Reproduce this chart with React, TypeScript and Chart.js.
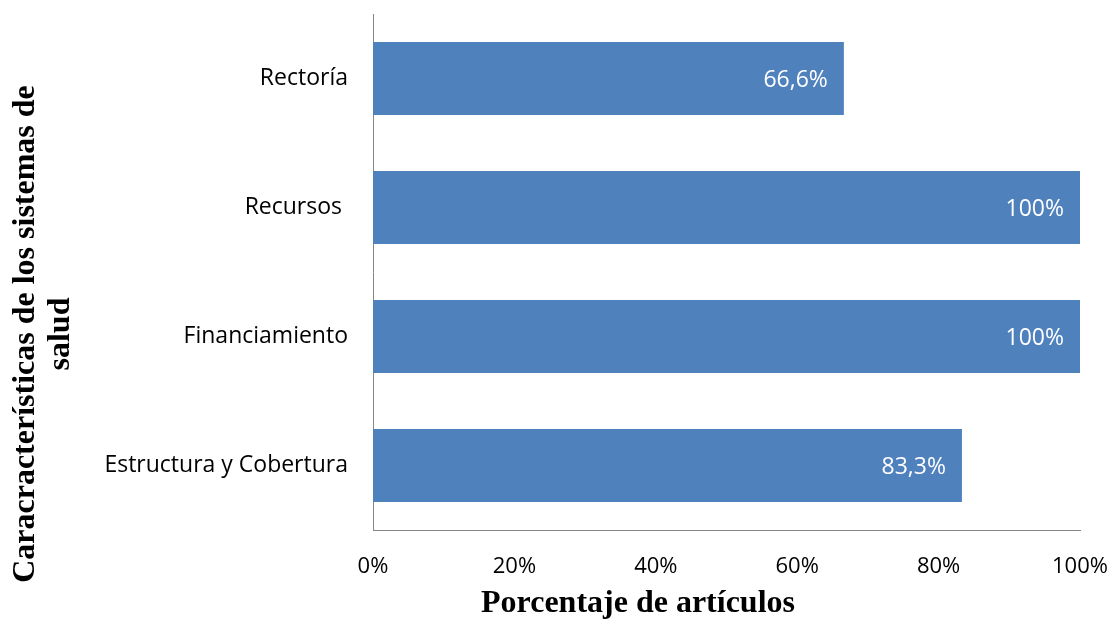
import React, { useEffect, useRef } from "react";
import { Chart, registerables } from "chart.js";

Chart.register(...registerables);

const categories = ["Rectoría", "Recursos ", "Financiamiento", "Estructura y Cobertura"];
const values = [66.6, 100, 100, 83.3];
const valueLabels = ["66,6%", "100%", "100%", "83,3%"];
const xTitle = "Porcentaje de artículos";
const yTitleLines = ["Caracracterísticas de los sistemas de", "salud"];

const W = 1113;
const H = 621;

const titlesPlugin = {
  id: "customTitles",
  afterDraw(chart: any) {
    const ctx = chart.ctx;
    ctx.save();
    ctx.fillStyle = "#000";
    ctx.font = "bold 32px 'Liberation Serif', 'Times New Roman', serif";
    ctx.textAlign = "center";
    ctx.textBaseline = "middle";
    ctx.fillText(xTitle, 638, 604);
    ctx.save();
    ctx.translate(26, 334);
    ctx.rotate(-Math.PI / 2);
    ctx.fillText(yTitleLines[0], 0, 0);
    ctx.fillText(yTitleLines[1], 0, 35);
    ctx.restore();
    ctx.restore();
  },
  afterDatasetsDraw(chart: any) {
    const ctx = chart.ctx;
    const meta = chart.getDatasetMeta(0);
    ctx.save();
    ctx.fillStyle = "#ffffff";
    ctx.font = "23px 'Open Sans', sans-serif";
    ctx.textAlign = "right";
    ctx.textBaseline = "middle";
    meta.data.forEach((bar: any, i: number) => {
      ctx.fillText(valueLabels[i], bar.x - 16, bar.y + 2);
    });
    ctx.restore();
  },
};

export default function App() {
  const ref = useRef<HTMLCanvasElement | null>(null);
  useEffect(() => {
    if (!ref.current) return;
    const chart = new Chart(ref.current, {
      type: "bar",
      data: {
        labels: categories,
        datasets: [
          {
            data: values,
            backgroundColor: "#4F81BD",
            borderWidth: 0,
            categoryPercentage: 1,
            barPercentage: 0.566,
          },
        ],
      },
      options: {
        indexAxis: "y",
        responsive: false,
        animation: false,
        layout: { padding: { top: 14, right: 33, left: 0, bottom: 0 } },
        plugins: {
          legend: { display: false },
          tooltip: { enabled: false },
          title: { display: false },
        },
        scales: {
          x: {
            min: 0,
            max: 100,
            grid: { display: false, drawTicks: false },
            border: { display: true, color: "#868686", width: 1 },
            ticks: {
              stepSize: 20,
              padding: 24,
              color: "#000",
              font: { family: "'Open Sans', sans-serif", size: 22 },
              callback: (v: any) => v + "%",
            },
            afterFit: (scale: any) => {
              scale.height = 91;
              scale.paddingLeft = 0;
              scale.paddingRight = 0;
              scale.paddingTop = 0;
              scale.paddingBottom = 0;
            },
          },
          y: {
            grid: { display: false, drawTicks: false },
            border: { display: true, color: "#868686", width: 1 },
            ticks: {
              padding: 25,
              color: "#000",
              font: { family: "'Open Sans', sans-serif", size: 23 },
            },
            afterFit: (scale: any) => {
              scale.width = 373;
              scale.paddingLeft = 0;
              scale.paddingRight = 0;
              scale.paddingTop = 0;
              scale.paddingBottom = 0;
            },
          },
        },
      },
      plugins: [titlesPlugin],
    });
    return () => chart.destroy();
  }, []);
  return (
    <div style={{ position: "fixed", left: 0, top: 0, width: W, height: H, background: "#fff" }}>
      <canvas ref={ref} width={W} height={H} style={{ width: W, height: H }} />
    </div>
  );
}
